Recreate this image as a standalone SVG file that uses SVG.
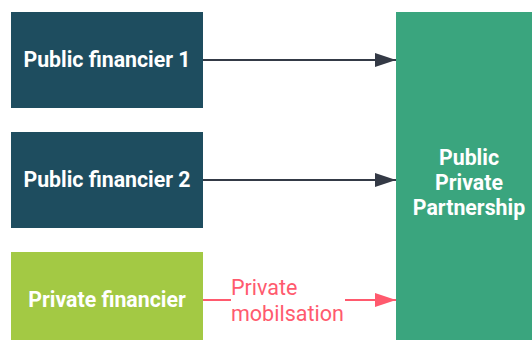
<svg xmlns="http://www.w3.org/2000/svg" width="532" height="340" viewBox="0 0 532 340">
<defs>
<style>
.pub{fill:#1e4d5f}
.lbl{font-family:Roboto,"Liberation Sans",sans-serif;font-weight:bold;font-size:21.3px;fill:#ffffff;text-anchor:middle}
.edge{stroke:#343a46;stroke-width:2;fill:none}
.pink{stroke:#ff5a6e;stroke-width:2;fill:none}
.elbl{font-family:Roboto,"Liberation Sans",sans-serif;font-size:21.5px;fill:#ff5a6e}
</style>
<marker id="ah" markerWidth="22" markerHeight="14" refX="21" refY="7" orient="auto" markerUnits="userSpaceOnUse"><path d="M0,0 L21,7 L0,14 Z" fill="#343a46"/></marker>
<marker id="ahp" markerWidth="22" markerHeight="14" refX="21" refY="7" orient="auto" markerUnits="userSpaceOnUse"><path d="M0,0 L21,7 L0,14 Z" fill="#ff5a6e"/></marker>
</defs>
<rect width="532" height="340" fill="#ffffff"/>
<g id="pf1"><rect class="pub" x="11" y="12" width="192" height="96"/><text class="lbl" x="107" y="67">Public financier 1</text></g>
<g id="pf2"><rect class="pub" x="11" y="132" width="192" height="96"/><text class="lbl" x="107" y="187">Public financier 2</text></g>
<g id="prf"><rect x="11" y="252" width="192" height="88" fill="#a3c944"/><text class="lbl" x="107" y="307">Private financier</text></g>
<g id="ppp"><rect x="396" y="12" width="136" height="328" fill="#3aa57e"/><text class="lbl" x="469" y="165">Public</text><text class="lbl" x="469" y="190">Private</text><text class="lbl" x="469" y="215">Partnership</text></g>
<g id="connectors">
<line class="edge" x1="203" y1="60" x2="396" y2="60" marker-end="url(#ah)"/>
<line class="edge" x1="203" y1="180" x2="396" y2="180" marker-end="url(#ah)"/>
<line class="pink" x1="203" y1="300" x2="231" y2="300"/>
<line class="pink" x1="345" y1="300" x2="396" y2="300" marker-end="url(#ahp)"/>
<text class="elbl" x="231" y="295">Private</text>
<text class="elbl" x="231" y="321">mobilsation</text>
</g>
</svg>
